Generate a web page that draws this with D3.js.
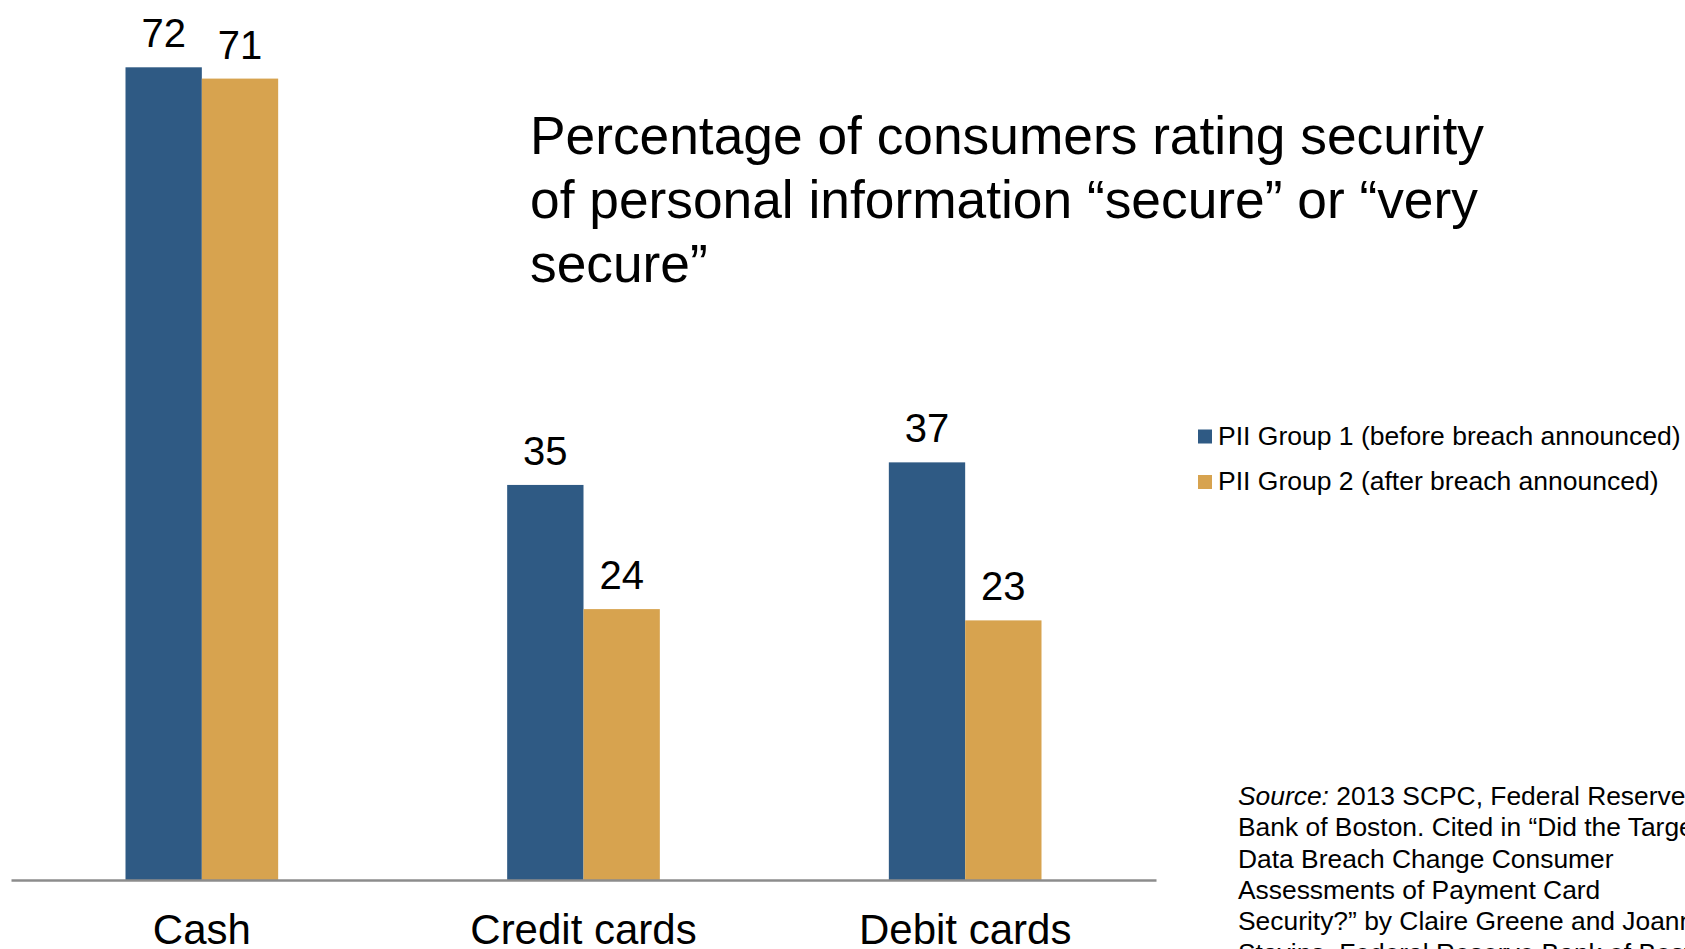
<!DOCTYPE html>
<html>
<head>
<meta charset="utf-8">
<script src="https://cdn.jsdelivr.net/npm/d3@7"></script>
<style>
  html, body { margin: 0; padding: 0; background: #ffffff; overflow: hidden; }
  svg { display: block; font-family: "Liberation Sans", Arial, sans-serif; }
</style>
</head>
<body>
<svg id="chart" width="1685" height="949"></svg>
<script>
// Payment methods on the x axis
const categories = ["Cash", "Credit cards", "Debit cards"];
// Share of consumers (%) rating security "secure" or "very secure"
const group1Values = [72, 35, 37];
const group2Values = [71, 24, 23];
const seriesNames = ["PII Group 1 (before breach announced)", "PII Group 2 (after breach announced)"];
const seriesColors = ["#2f5a84", "#d7a34f"];
const titleLines = [
  "Percentage of consumers rating security",
  "of personal information \u201csecure\u201d or \u201cvery",
  "secure\u201d"
];
const sourceLines = [
  ["Source:", " 2013 SCPC, Federal Reserve"],
  ["", "Bank of Boston. Cited in \u201cDid the Target"],
  ["", "Data Breach Change Consumer"],
  ["", "Assessments of Payment Card"],
  ["", "Security?\u201d by Claire Greene and Joanna"],
  ["", "Stavins, Federal Reserve Bank of Boston."]
];

const series = [group1Values, group2Values];
const table = categories.map((c, i) => ({
  category: c,
  values: series.map((vals, s) => ({ s, value: vals[i] }))
}));

const svg = d3.select("#chart");

const x0 = d3.scaleBand()
  .domain(categories)
  .range([11, 1156])
  .paddingInner(0.6)
  .paddingOuter(0.3);

const x1 = d3.scaleBand()
  .domain(d3.range(series.length))
  .range([0, x0.bandwidth()]);

const y = d3.scaleLinear()
  .domain([0, 80])
  .range([880, -23]);

// Bars
const groups = svg.append("g")
  .selectAll("g")
  .data(table)
  .join("g")
  .attr("transform", d => `translate(${x0(d.category)},0)`);

groups.selectAll("rect")
  .data(d => d.values)
  .join("rect")
  .attr("x", d => x1(d.s))
  .attr("width", x1.bandwidth())
  .attr("y", d => y(d.value))
  .attr("height", d => y(0) - y(d.value))
  .attr("fill", d => seriesColors[d.s]);

// Value labels above bars
groups.selectAll("text")
  .data(d => d.values)
  .join("text")
  .attr("x", d => x1(d.s) + x1.bandwidth() / 2)
  .attr("y", d => y(d.value) - 20)
  .attr("text-anchor", "middle")
  .attr("font-size", 40)
  .attr("fill", "#000")
  .text(d => d.value);

// Category axis
const xAxis = svg.append("g")
  .attr("transform", `translate(0,${y(0)})`)
  .call(d3.axisBottom(x0).tickSize(0).tickPadding(0));
xAxis.select(".domain")
  .attr("stroke", "#8c8c8c")
  .attr("stroke-width", 2.5);
xAxis.selectAll(".tick text")
  .attr("dy", null)
  .attr("y", 64)
  .attr("font-size", 42)
  .attr("font-family", "\"Liberation Sans\", Arial, sans-serif")
  .attr("fill", "#000");

// Title
const title = svg.append("text")
  .attr("font-size", 53.3)
  .attr("fill", "#000");
title.selectAll("tspan")
  .data(titleLines)
  .join("tspan")
  .attr("x", 530)
  .attr("y", (d, i) => 154 + i * 64)
  .text(d => d);

// Legend
const legend = svg.append("g")
  .selectAll("g")
  .data(seriesNames)
  .join("g")
  .attr("transform", (d, i) => `translate(1198,${429.5 + i * 45.5})`);
legend.append("rect")
  .attr("width", 14)
  .attr("height", 14)
  .attr("fill", (d, i) => seriesColors[i]);
legend.append("text")
  .attr("x", 20)
  .attr("y", 15)
  .attr("font-size", 26.5)
  .attr("fill", "#000")
  .text(d => d);

// Source note
const note = svg.append("text")
  .attr("font-size", 26.4)
  .attr("fill", "#000");
sourceLines.forEach((parts, i) => {
  const line = note.append("tspan")
    .attr("x", 1238)
    .attr("y", 805 + i * 31.3);
  if (parts[0]) line.append("tspan").attr("font-style", "italic").text(parts[0]);
  line.append("tspan").text(parts[1]);
});
</script>
</body>
</html>
